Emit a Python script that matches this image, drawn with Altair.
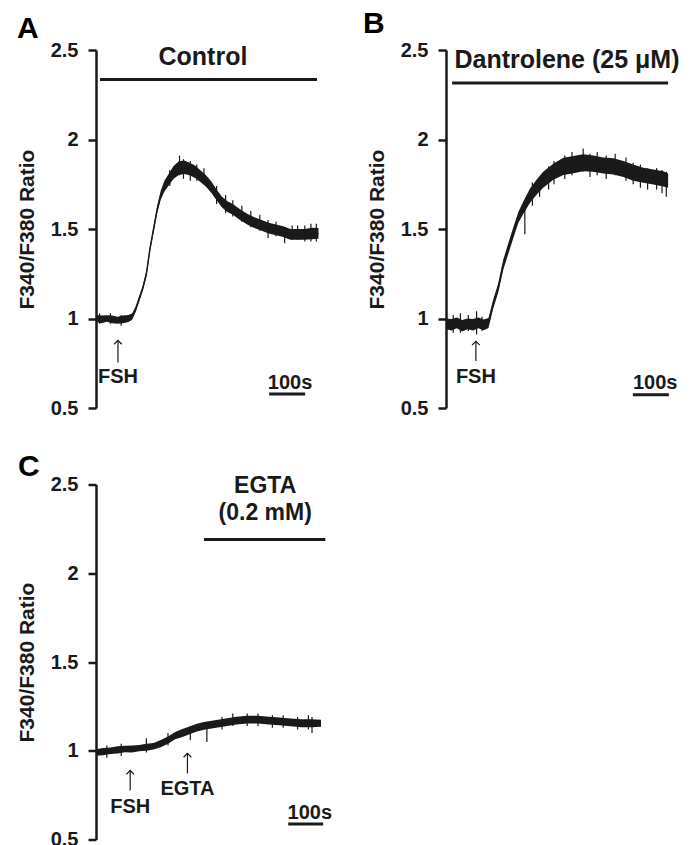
import altair as alt
import pandas as pd

FONT = "Liberation Sans"
INK = "#1a1a1a"

# ---------------- Panel A (Control) ----------------
A_t = [0, 15, 30, 45, 60, 75, 90, 100, 110, 120, 130, 140, 150, 160, 170, 180, 190, 200, 215, 230,
       245, 260, 275, 290, 305, 320, 335, 350, 365, 380, 400, 420, 440, 460, 480, 500, 520, 540,
       560, 580, 600, 618]
A_mid = [1.00, 0.995, 1.00, 0.995, 0.99, 0.995, 1.00, 1.01, 1.05, 1.11, 1.17, 1.25, 1.39, 1.50, 1.61,
         1.69, 1.74, 1.77, 1.815, 1.84, 1.845, 1.835, 1.82, 1.795, 1.77, 1.735, 1.69, 1.65, 1.625,
         1.61, 1.58, 1.555, 1.535, 1.52, 1.505, 1.495, 1.485, 1.47, 1.47, 1.47, 1.475, 1.475]
A_hw = [0.02, 0.022, 0.018, 0.022, 0.02, 0.022, 0.02, 0.018, 0.015, 0.015, 0.015, 0.015, 0.015, 0.018,
        0.02, 0.025, 0.03, 0.032, 0.035, 0.038, 0.038, 0.035, 0.035, 0.033, 0.032, 0.032, 0.03, 0.03,
        0.03, 0.03, 0.03, 0.03, 0.03, 0.03, 0.03, 0.03, 0.03, 0.03, 0.03, 0.03, 0.032, 0.03]
A_spike_t = [10, 40, 70, 205, 232, 243, 262, 280, 300, 335, 360, 380, 405, 430, 455, 478, 500, 524,
             545, 560, 580, 597, 612]
A_spike_lo = [0.97, 0.97, 0.96, 1.74, 1.80, 1.78, 1.77, 1.77, 1.75, 1.64, 1.59, 1.57, 1.54, 1.51,
              1.49, 1.45, 1.46, 1.42, 1.44, 1.44, 1.43, 1.43, 1.43]
A_spike_hi = [1.03, 1.03, 1.02, 1.83, 1.91, 1.89, 1.88, 1.86, 1.84, 1.74, 1.69, 1.66, 1.63, 1.60,
              1.58, 1.55, 1.54, 1.51, 1.52, 1.52, 1.52, 1.53, 1.53]
A_head = ["Control"]
A_head_t = [297]
A_head_y = [2.414]
A_lab = ["FSH", "100s"]
A_lab_t = [61, 539]
A_lab_y = [0.642, 0.608]
A_bar_t1 = [11, 481]
A_bar_t2 = [614, 581]
A_bar_y = [2.335, 0.578]
A_arr_t = [61]
A_arr_lo = [0.754]
A_arr_hi = [0.878]

# ---------------- Panel B (Dantrolene) ----------------
B_t = [0, 15, 30, 45, 60, 75, 90, 105, 118, 131, 145, 159, 173, 187, 201, 215, 233, 252, 270, 298,
       326, 354, 381, 409, 437, 465, 493, 520, 548, 576, 604, 617]
B_mid = [0.97, 0.965, 0.975, 0.96, 0.97, 0.965, 0.975, 0.965, 0.975, 1.08, 1.17, 1.30, 1.39, 1.48,
         1.565, 1.62, 1.685, 1.735, 1.775, 1.82, 1.85, 1.86, 1.87, 1.865, 1.855, 1.85, 1.835,
         1.815, 1.80, 1.79, 1.78, 1.77]
B_hw = [0.03, 0.032, 0.03, 0.032, 0.03, 0.032, 0.03, 0.03, 0.028, 0.025, 0.025, 0.028, 0.03, 0.03,
        0.03, 0.035, 0.04, 0.042, 0.045, 0.045, 0.048, 0.048, 0.048, 0.045, 0.045, 0.045, 0.045,
        0.045, 0.042, 0.042, 0.042, 0.04]
B_spike_t = [20, 40, 62, 85, 100, 219, 240, 260, 285, 300, 330, 350, 381, 400, 420, 445, 470, 500,
             520, 540, 560, 585, 600, 612]
B_spike_lo = [0.92, 0.92, 0.93, 0.91, 0.93, 1.47, 1.63, 1.68, 1.72, 1.75, 1.78, 1.80, 1.82, 1.79,
              1.80, 1.78, 1.80, 1.77, 1.75, 1.73, 1.72, 1.72, 1.70, 1.68]
B_spike_hi = [1.02, 1.03, 1.02, 1.04, 1.01, 1.64, 1.76, 1.79, 1.85, 1.88, 1.91, 1.93, 1.95, 1.92,
              1.93, 1.91, 1.92, 1.90, 1.87, 1.86, 1.84, 1.84, 1.83, 1.82]
B_head = ["Dantrolene (25 μM)"]
B_head_t = [336]
B_head_y = [2.398]
B_lab = ["FSH", "100s"]
B_lab_t = [83, 581]
B_lab_y = [0.640, 0.607]
B_bar_t1 = [17, 519]
B_bar_t2 = [617, 619]
B_bar_y = [2.315, 0.574]
B_arr_t = [83]
B_arr_lo = [0.762]
B_arr_hi = [0.873]

# ---------------- Panel C (EGTA) ----------------
C_t = [0, 20, 40, 60, 80, 100, 120, 140, 160, 180, 200, 220, 240, 260, 280, 300, 330, 360, 390, 420,
       450, 480, 510, 540, 570, 600, 625]
C_mid = [0.99, 0.995, 1.00, 1.005, 1.01, 1.01, 1.015, 1.02, 1.025, 1.04, 1.06, 1.085, 1.10, 1.115,
         1.13, 1.14, 1.15, 1.16, 1.17, 1.175, 1.175, 1.17, 1.165, 1.16, 1.155, 1.155, 1.155]
C_hw = [0.018, 0.02, 0.018, 0.02, 0.018, 0.02, 0.018, 0.02, 0.018, 0.02, 0.02, 0.02, 0.022, 0.022,
        0.022, 0.022, 0.022, 0.022, 0.022, 0.022, 0.022, 0.022, 0.022, 0.022, 0.022, 0.022, 0.02]
C_spike_t = [30, 70, 140, 200, 262, 308, 350, 380, 420, 450, 490, 520, 560, 590, 600]
C_spike_lo = [0.96, 0.97, 0.99, 1.03, 1.06, 1.05, 1.12, 1.14, 1.14, 1.14, 1.13, 1.13, 1.12, 1.12, 1.10]
C_spike_hi = [1.03, 1.04, 1.07, 1.10, 1.14, 1.15, 1.19, 1.21, 1.21, 1.21, 1.20, 1.20, 1.19, 1.20, 1.19]
C_head = ["EGTA", "(0.2 mM)"]
C_head_t = [470, 470]
C_head_y = [2.45, 2.30]
C_lab = ["FSH", "EGTA", "100s"]
C_lab_t = [95, 254, 594]
C_lab_y = [0.652, 0.748, 0.618]
C_bar_t1 = [300, 534]
C_bar_t2 = [637, 631]
C_bar_y = [2.19, 0.587]
C_arr_t = [95, 254]
C_arr_lo = [0.776, 0.872]
C_arr_hi = [0.889, 0.985]

TICKS = [0.5, 1, 1.5, 2, 2.5]
W = 234


def panel(t, mid, hw, sp_t, sp_lo, sp_hi, head, head_t, head_y, lab, lab_t, lab_y,
          bar_t1, bar_t2, bar_y, arr_t, arr_lo, arr_hi, letter, ldx, ldy, height,
          head_size=25, anchor=False):
    trace = pd.DataFrame({"t": t, "mid": mid,
                          "lo": [m - h for m, h in zip(mid, hw)],
                          "hi": [m + h for m, h in zip(mid, hw)]})
    spikes = pd.DataFrame({"t": sp_t, "lo": sp_lo, "hi": sp_hi})
    heads = pd.DataFrame({"t": head_t, "y": head_y, "txt": head})
    labs = pd.DataFrame({"t": lab_t, "y": lab_y, "txt": lab})
    bars = pd.DataFrame({"t1": bar_t1, "t2": bar_t2, "y": bar_y})
    arrows = pd.DataFrame({"t": arr_t, "lo": arr_lo, "hi": arr_hi})

    xs = alt.Scale(domain=[0, 650], nice=False, zero=False)
    ys = alt.Scale(domain=[0.5, 2.5], nice=False, zero=False)
    yaxis = alt.Axis(values=TICKS, format="~g", title="F340/F380 Ratio", grid=False,
                     titleX=-63, titleY=height / 2, titleAngle=-90, titleAlign="center",
                     titleBaseline="alphabetic")

    def X(f):
        return alt.X(f, scale=xs, axis=None)

    def Y(f):
        return alt.Y(f, scale=ys, axis=yaxis)

    layers = [
        alt.Chart(trace).mark_area(color=INK, opacity=1).encode(x=X("t:Q"), y=Y("lo:Q"), y2="hi:Q"),
        alt.Chart(trace).mark_line(color=INK, strokeWidth=1.5).encode(x=X("t:Q"), y=Y("mid:Q")),
        alt.Chart(spikes).mark_rule(color=INK, strokeWidth=1.2).encode(x=X("t:Q"), y=Y("lo:Q"), y2="hi:Q"),
        alt.Chart(bars).mark_rule(color=INK, strokeWidth=3).encode(x=X("t1:Q"), x2="t2:Q", y=Y("y:Q")),
        alt.Chart(arrows).mark_rule(color=INK, strokeWidth=1.2).encode(x=X("t:Q"), y=Y("lo:Q"), y2="hi:Q"),
        alt.Chart(arrows).mark_point(shape="M -1 1 L 0 0 L 1 1", filled=False, size=60,
                                     color=INK, strokeWidth=1.2, opacity=1).encode(x=X("t:Q"), y=Y("hi:Q")),
        alt.Chart(heads).mark_text(font=FONT, fontWeight="bold", fontSize=head_size, color=INK,
                                   baseline="alphabetic", align="center").encode(
            x=X("t:Q"), y=Y("y:Q"), text="txt:N"),
        alt.Chart(labs).mark_text(font=FONT, fontWeight="bold", fontSize=20, color=INK,
                                  baseline="alphabetic", align="center").encode(
            x=X("t:Q"), y=Y("y:Q"), text="txt:N"),
        alt.Chart(pd.DataFrame({"txt": [letter]})).mark_text(
            font=FONT, fontWeight="bold", fontSize=30, color="#000000",
            baseline="alphabetic", align="left").encode(
            x=alt.value(ldx), y=alt.value(ldy), text="txt:N"),
    ]
    if anchor:
        layers.append(
            alt.Chart(pd.DataFrame({"a": [0]})).mark_rect(opacity=0).encode(
                x=alt.value(-88), x2=alt.value(-87), y=alt.value(-41.5), y2=alt.value(-40.5)))
    return alt.layer(*layers).properties(width=W, height=height)


pA = panel(A_t, A_mid, A_hw, A_spike_t, A_spike_lo, A_spike_hi, A_head, A_head_t, A_head_y,
           A_lab, A_lab_t, A_lab_y, A_bar_t1, A_bar_t2, A_bar_y, A_arr_t, A_arr_lo, A_arr_hi,
           "A", -79, -12.5, 358, anchor=True)
pB = panel(B_t, B_mid, B_hw, B_spike_t, B_spike_lo, B_spike_hi, B_head, B_head_t, B_head_y,
           B_lab, B_lab_t, B_lab_y, B_bar_t1, B_bar_t2, B_bar_y, B_arr_t, B_arr_lo, B_arr_hi,
           "B", -83, -17.5, 358)
pC = panel(C_t, C_mid, C_hw, C_spike_t, C_spike_lo, C_spike_hi, C_head, C_head_t, C_head_y,
           C_lab, C_lab_t, C_lab_y, C_bar_t1, C_bar_t2, C_bar_y, C_arr_t, C_arr_lo, C_arr_hi,
           "C", -78, -9, 355, head_size=23)

top = alt.hconcat(pA, pB, spacing=116, bounds="flush")
chart = alt.vconcat(top, pC, spacing=434.5, bounds="flush").properties(
    padding={"left": 0, "top": 0, "right": 0, "bottom": 0}
).configure_view(stroke=None).configure_axis(
    domainColor=INK, domainWidth=2.5, tickColor=INK, tickWidth=2.5, tickSize=8,
    labelFont=FONT, labelFontSize=20, labelFontWeight="bold", labelColor=INK, labelPadding=10,
    titleFont=FONT, titleFontSize=21, titleFontWeight="bold", titleColor=INK,
)

chart.save("out.html", embed_options={"renderer": "svg", "actions": False})
